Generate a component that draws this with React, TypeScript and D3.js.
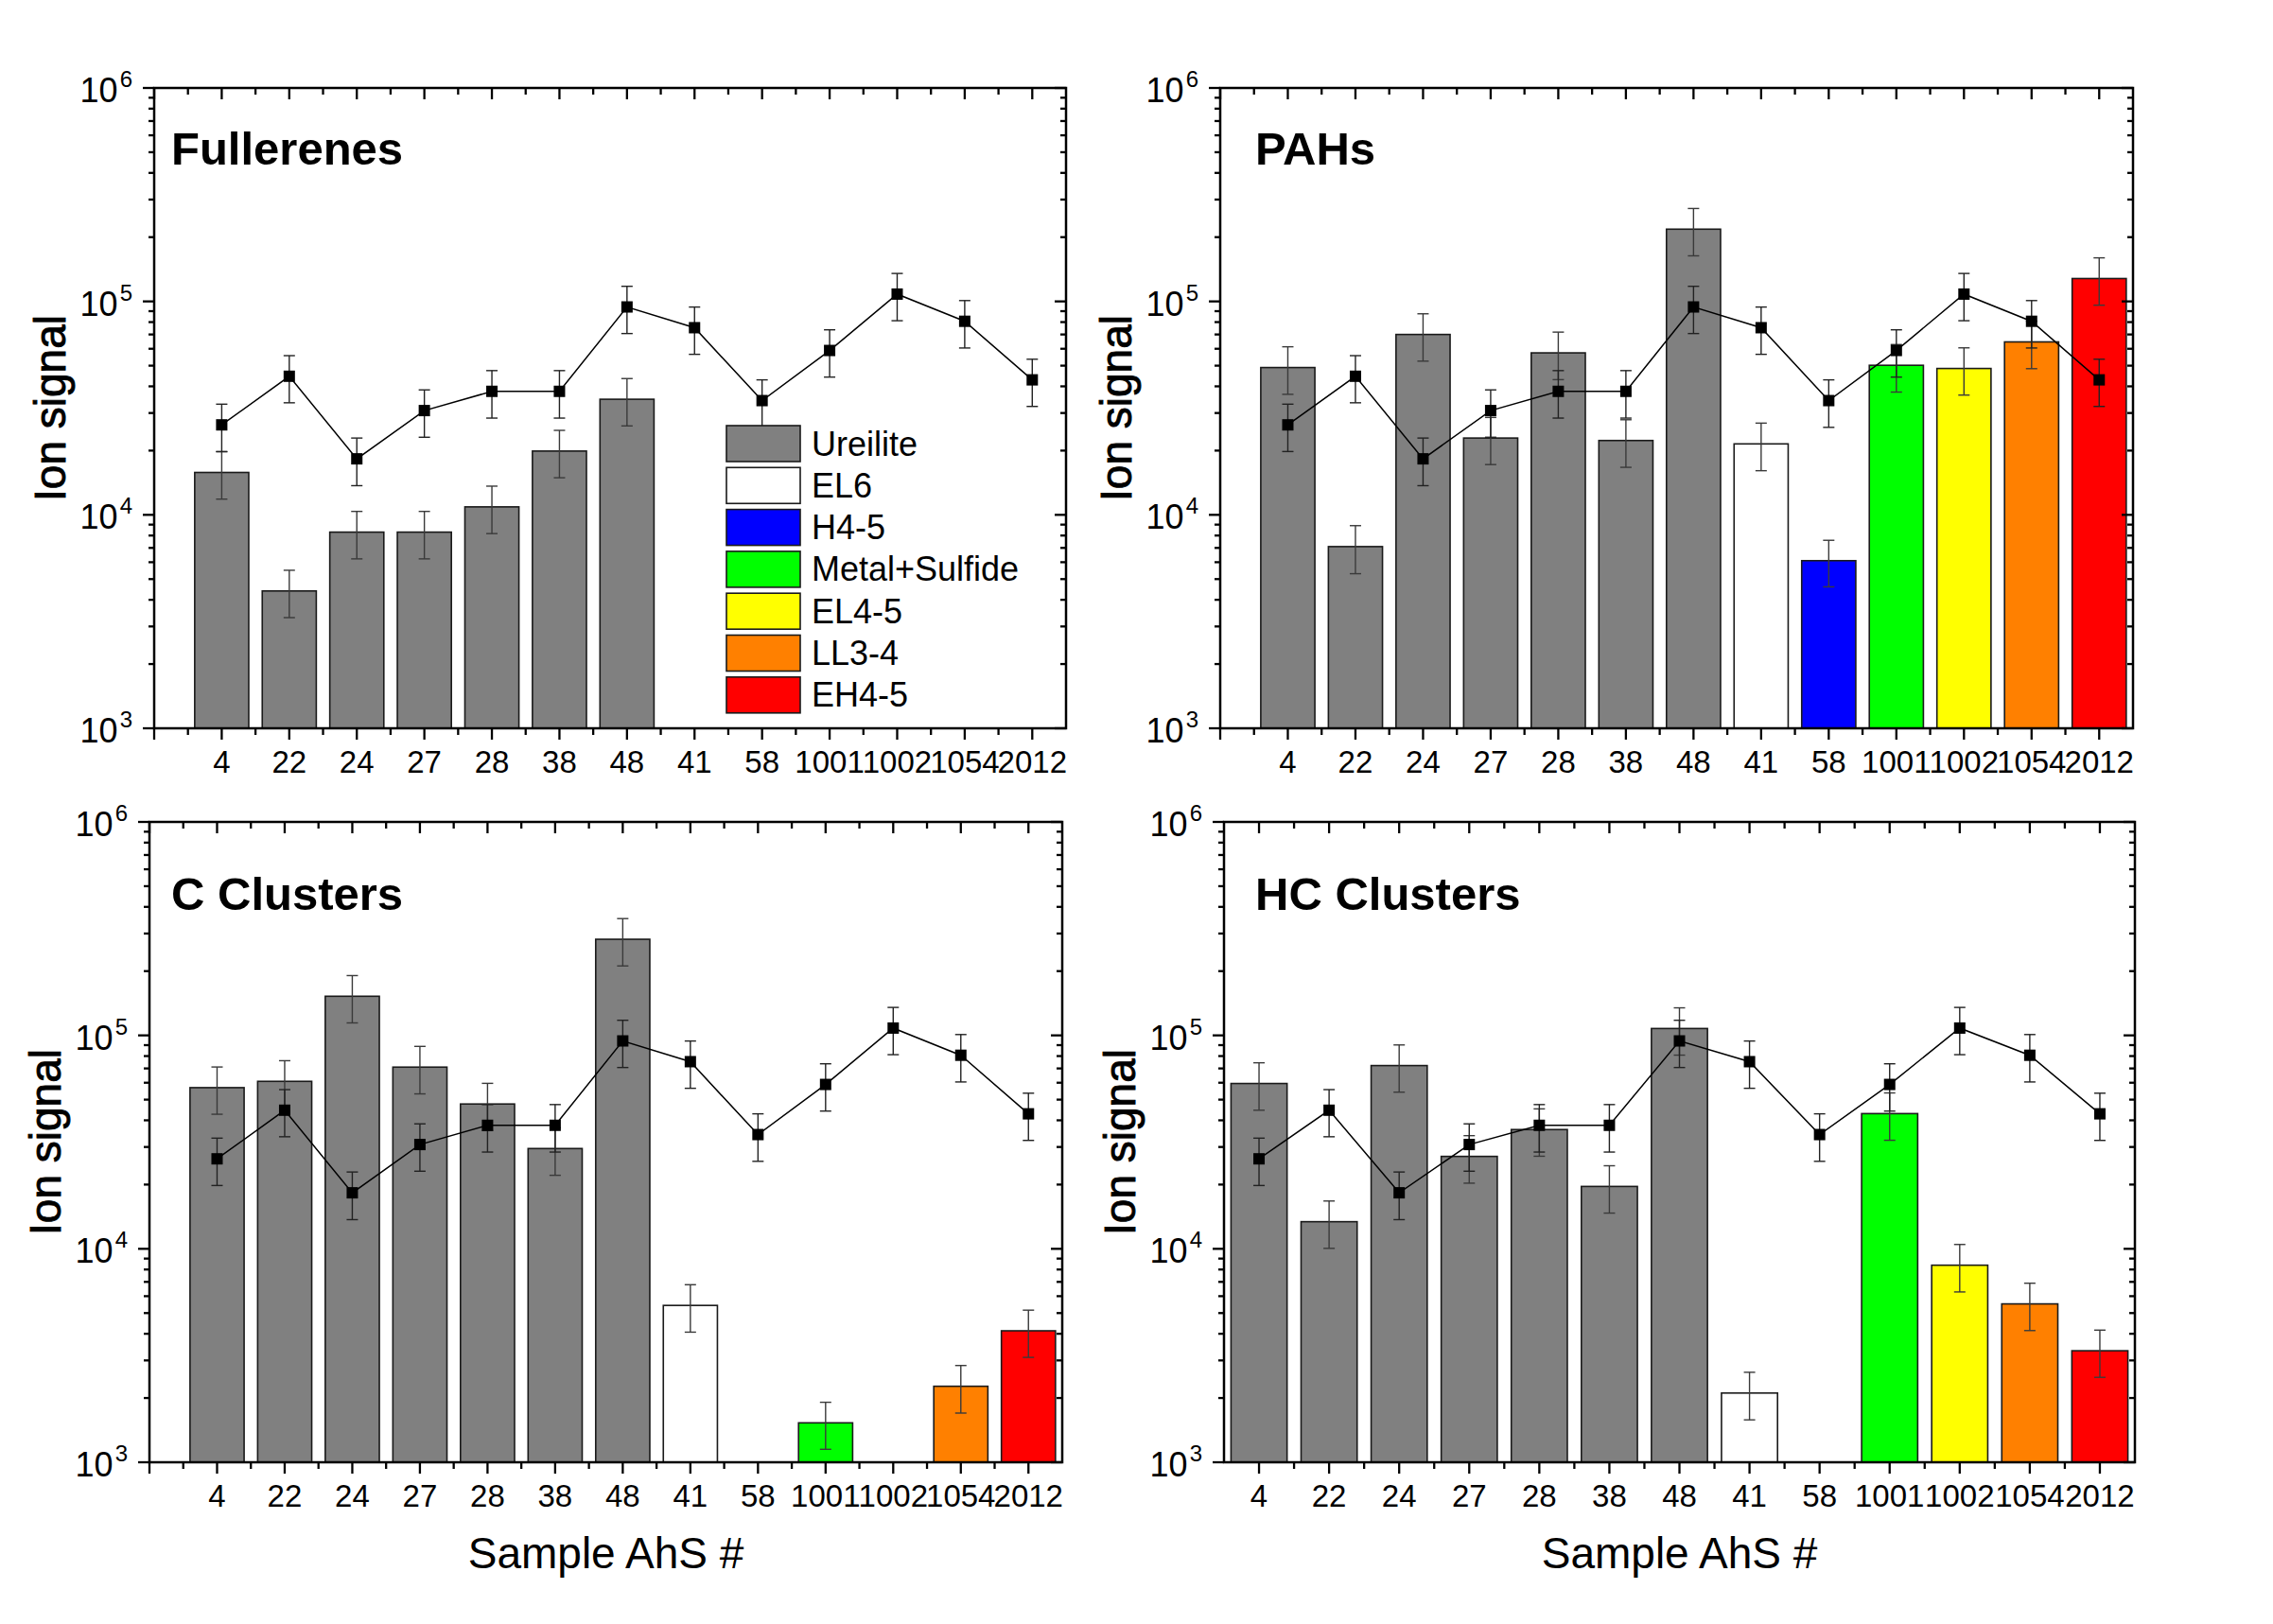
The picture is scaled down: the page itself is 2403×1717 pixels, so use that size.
import * as d3 from "d3";

// sample numbers on the x axis
const categories = ["4", "22", "24", "27", "28", "38", "48", "41", "58", "1001", "1002", "1054", "2012"];
// meteorite class for each sample (index into classNames)
const sampleClass = [0, 0, 0, 0, 0, 0, 0, 1, 2, 3, 4, 5, 6];
const classNames = ["Ureilite", "EL6", "H4-5", "Metal+Sulfide", "EL4-5", "LL3-4", "EH4-5"];
const classColors = ["#808080", "#ffffff", "#0000ff", "#00ff00", "#ffff00", "#ff8000", "#ff0000"];

// reference line drawn in every panel
const refValues = [26400, 44600, 18300, 30800, 37900, 37900, 94200, 75300, 34300, 58900, 108200, 80700, 42900];
const refErrors = [6600, 11100, 4600, 7700, 9500, 9500, 23500, 18800, 8600, 14700, 27000, 20200, 10700];

type V = number | null;
const fullereneValues: V[] = [15800, 4400, 8300, 8300, 10900, 19900, 34800, null, null, null, null, null, null];
const fullereneErrors: V[] = [3950, 1100, 2080, 2080, 2730, 4980, 8700, null, null, null, null, null, null];
const pahValues: V[] = [49000, 7100, 70000, 22900, 57400, 22300, 218000, 21500, 6100, 50200, 48500, 64600, 128000];
const pahErrors: V[] = [12300, 1800, 17500, 5700, 14400, 5600, 54500, 5400, 1500, 12600, 12100, 16200, 32000];
const cClusterValues: V[] = [56900, 60900, 152500, 71000, 47700, 29500, 282000, 5430, null, 1530, null, 2270, 4130];
const cClusterErrors: V[] = [14200, 15200, 38100, 17800, 11900, 7400, 70500, 1360, null, 380, null, 570, 1030];
const hcClusterValues: V[] = [59500, 13400, 72200, 27100, 36200, 19600, 107700, 2110, null, 43000, 8380, 5520, 3330];
const hcClusterErrors: V[] = [14900, 3350, 18000, 6800, 9050, 4900, 26900, 530, null, 10750, 2100, 1380, 830];

const yTickExps = [3, 4, 5, 6];

const FONT = "'Liberation Sans', Arial, Helvetica, sans-serif";

interface PanelProps {
  title: string;
  values: V[];
  errors: V[];
  x0: number;
  x1: number;
  y0: number;
  y1: number;
  lo: number;
  titleX: number;
  titleY: number;
  xTitle?: boolean;
  legend?: boolean;
}

const Panel = ({ title, values, errors, x0, x1, y0, y1, lo, titleX, titleY, xTitle, legend }: PanelProps) => {
  const x = d3.scaleLinear().domain([lo, 12.5]).range([x0, x1]);
  const y = d3.scaleLog().domain([1e3, 1e6]).range([y1, y0]);
  const step = x(1) - x(0);
  const bw = step * 0.8;
  const cap = 6;

  const majorX = d3.range(Math.ceil(lo), 13);
  const minorX = d3.range(Math.ceil(lo - 0.5) + 0.5, 12.6, 1).filter((v) => v > lo && v < 12.5);
  const minorY: number[] = [];
  for (const e of [3, 4, 5]) for (let m = 2; m <= 9; m++) minorY.push(m * 10 ** e);

  const line = d3
    .line<number>()
    .x((_, i) => x(i))
    .y((d) => y(d));

  const errBar = (cx: number, v: number, e: number, color: string, key: string) => {
    const top = y(v + e);
    const bot = y(Math.max(v - e, 1e3));
    return (
      <g key={key} stroke={color} strokeWidth={1.4}>
        <line x1={cx} x2={cx} y1={top} y2={bot} />
        <line x1={cx - cap} x2={cx + cap} y1={top} y2={top} />
        <line x1={cx - cap} x2={cx + cap} y1={bot} y2={bot} />
      </g>
    );
  };

  return (
    <g>
      {/* bars */}
      {values.map((v, i) =>
        v == null ? null : (
          <rect
            key={`b${i}`}
            x={x(i) - bw / 2}
            y={y(v)}
            width={bw}
            height={y1 - y(v)}
            fill={classColors[sampleClass[i]]}
            stroke="#1a1a1a"
            strokeWidth={1.6}
          />
        )
      )}
      {values.map((v, i) => (v == null ? null : errBar(x(i), v, errors[i] as number, "#3a3a3a", `be${i}`)))}

      {/* reference line */}
      <path d={line(refValues) as string} fill="none" stroke="#000" strokeWidth={1.5} />
      {refValues.map((v, i) => errBar(x(i), v, refErrors[i], "#222", `le${i}`))}
      {refValues.map((v, i) => (
        <rect key={`m${i}`} x={x(i) - 6} y={y(v) - 6} width={12} height={12} fill="#000" />
      ))}

      {/* frame */}
      <rect x={x0} y={y0} width={x1 - x0} height={y1 - y0} fill="none" stroke="#000" strokeWidth={2.5} />

      {/* ticks */}
      <g stroke="#000" strokeWidth={2.3}>
        {majorX.map((t) => (
          <g key={`mx${t}`}>
            <line x1={x(t)} x2={x(t)} y1={y1} y2={y1 + 12} />
            <line x1={x(t)} x2={x(t)} y1={y0} y2={y0 + 12} />
          </g>
        ))}
        {minorX.map((t) => (
          <g key={`nx${t}`}>
            <line x1={x(t)} x2={x(t)} y1={y1} y2={y1 + 7} />
            <line x1={x(t)} x2={x(t)} y1={y0} y2={y0 + 7} />
          </g>
        ))}
        {yTickExps.map((e) => (
          <g key={`my${e}`}>
            <line x1={x0 - 12} x2={x0} y1={y(10 ** e)} y2={y(10 ** e)} />
            <line x1={x1 - 12} x2={x1} y1={y(10 ** e)} y2={y(10 ** e)} />
          </g>
        ))}
        {minorY.map((t) => (
          <g key={`ny${t}`}>
            <line x1={x0 - 6} x2={x0} y1={y(t)} y2={y(t)} />
            <line x1={x1 - 6} x2={x1} y1={y(t)} y2={y(t)} />
          </g>
        ))}
      </g>

      {/* tick labels */}
      {categories.map((c, i) => (
        <text key={`xl${i}`} x={x(i)} y={y1 + 47} textAnchor="middle" fontSize={33} fontFamily={FONT}>
          {c}
        </text>
      ))}
      {yTickExps.map((e) => (
        <text key={`yl${e}`} x={x0 - 23} y={y(10 ** e) + 15} textAnchor="end" fontSize={36} fontFamily={FONT}>
          <tspan>10</tspan>
          <tspan dx={2} dy={-16} fontSize={24}>
            {e}
          </tspan>
        </text>
      ))}

      {/* titles */}
      <text x={titleX} y={titleY} fontSize={49} fontWeight="bold" fontFamily={FONT}>
        {title}
      </text>
      <text
        transform={`translate(${x0 - 94},${(y0 + y1) / 2}) rotate(-90)`}
        textAnchor="middle"
        fontSize={46}
        fontFamily={FONT}
        stroke="#000"
        strokeWidth={0.9}
      >
        Ion signal
      </text>
      {xTitle && (
        <text x={(x0 + x1) / 2} y={y1 + 112} textAnchor="middle" fontSize={46} fontFamily={FONT}>
          Sample AhS #
        </text>
      )}

      {legend && (
        <g>
          {classNames.map((n, i) => (
            <g key={n} transform={`translate(768,${450 + i * 44.3})`}>
              <rect width={78} height={38} fill={classColors[i]} stroke="#1a1a1a" strokeWidth={1.6} />
              <text x={90} y={31.5} fontSize={36} fontFamily={FONT}>
                {n}
              </text>
            </g>
          ))}
        </g>
      )}
    </g>
  );
};

export default function App() {
  return (
    <svg
      width={2403}
      height={1717}
      style={{ position: "absolute", left: 0, top: 0, background: "#fff" }}
    >
      <rect width={2403} height={1717} fill="#fff" />
      <Panel
        title="Fullerenes"
        values={fullereneValues}
        errors={fullereneErrors}
        x0={163}
        x1={1127}
        y0={93}
        y1={770}
        lo={-1}
        titleX={181}
        titleY={174}
        legend
      />
      <Panel
        title="PAHs"
        values={pahValues}
        errors={pahErrors}
        x0={1290}
        x1={2255}
        y0={93}
        y1={770}
        lo={-1}
        titleX={1327}
        titleY={174}
      />
      <Panel
        title="C Clusters"
        values={cClusterValues}
        errors={cClusterErrors}
        x0={158}
        x1={1123}
        y0={869}
        y1={1546}
        lo={-1}
        titleX={181}
        titleY={962}
        xTitle
      />
      <Panel
        title="HC Clusters"
        values={hcClusterValues}
        errors={hcClusterErrors}
        x0={1294}
        x1={2257}
        y0={869}
        y1={1546}
        lo={-0.5}
        titleX={1327}
        titleY={962}
        xTitle
      />
    </svg>
  );
}
